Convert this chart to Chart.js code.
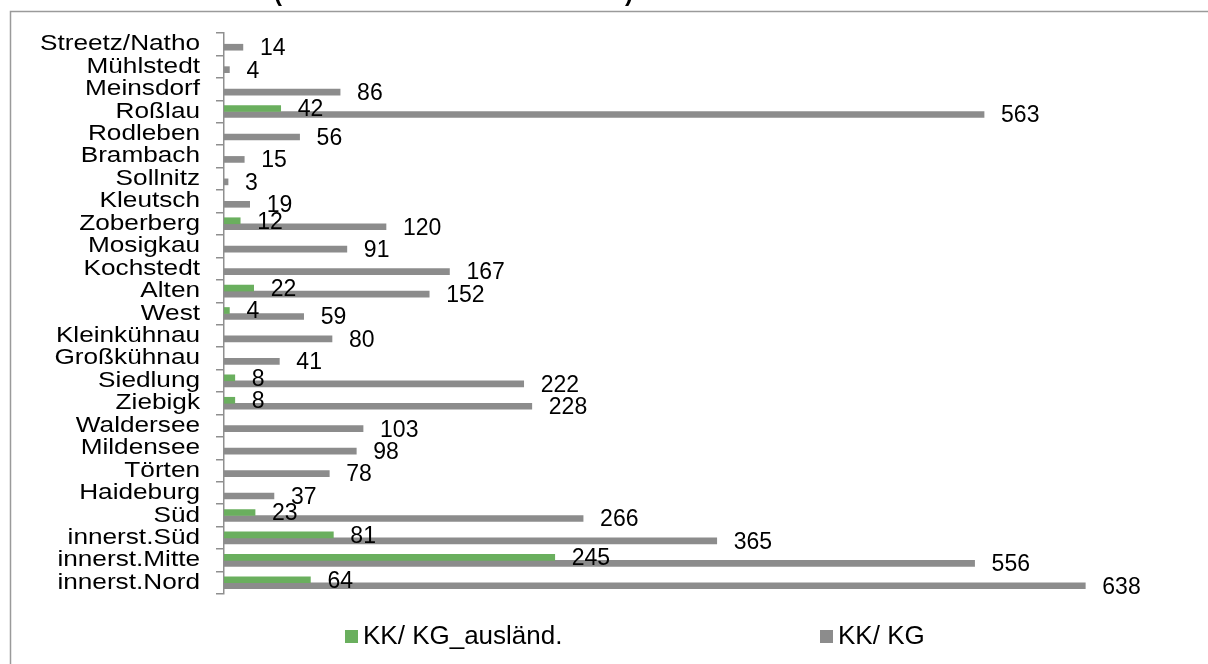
<!DOCTYPE html>
<html>
<head>
<meta charset="utf-8">
<script src="https://cdn.jsdelivr.net/npm/chart.js@4/dist/chart.umd.min.js"></script>
<style>
  html, body { margin: 0; padding: 0; background: #fff; }
  #wrap { width: 1208px; height: 664px; position: relative; }
</style>
</head>
<body>
<div id="wrap"><canvas id="c" width="1208" height="664"></canvas></div>
<script>
// Districts, top to bottom
const categories = [
  'Streetz/Natho', 'Mühlstedt', 'Meinsdorf', 'Roßlau', 'Rodleben', 'Brambach',
  'Sollnitz', 'Kleutsch', 'Zoberberg', 'Mosigkau', 'Kochstedt', 'Alten', 'West',
  'Kleinkühnau', 'Großkühnau', 'Siedlung', 'Ziebigk', 'Waldersee', 'Mildensee',
  'Törten', 'Haideburg', 'Süd', 'innerst.Süd', 'innerst.Mitte', 'innerst.Nord'
];
const seriesNames = ['KK/ KG_ausländ.', 'KK/ KG'];
const auslaendValues = [null, null, null, 42, null, null, null, null, 12, null, null, 22, 4,
  null, null, 8, 8, null, null, null, null, 23, 81, 245, 64];
const gesamtValues = [14, 4, 86, 563, 56, 15, 3, 19, 120, 91, 167, 152, 59,
  80, 41, 222, 228, 103, 98, 78, 37, 266, 365, 556, 638];
const seriesColors = ['#6AAF5E', '#8C8C8C'];

const FONT = '"Liberation Sans", Arial, sans-serif';

// Outer frame and the clipped title line
const framePlugin = {
  id: 'frame',
  beforeDraw(chart) {
    const ctx = chart.ctx;
    ctx.save();
    ctx.fillStyle = '#fff';
    ctx.fillRect(0, 0, chart.width, chart.height);
    ctx.strokeStyle = '#9a9a9a';
    ctx.lineWidth = 1.5;
    ctx.beginPath();
    ctx.moveTo(10.5, chart.height + 2);
    ctx.lineTo(10.5, 11.5);
    ctx.lineTo(chart.width + 2, 11.5);
    ctx.stroke();
    ctx.fillStyle = '#000';
    ctx.font = 'bold 24px ' + FONT;
    ctx.textBaseline = 'alphabetic';
    ctx.textAlign = 'left';
    ctx.fillText('(', 274, 1);
    ctx.fillText(')', 625, 1);
    ctx.restore();
  }
};

// Category names, drawn widened at the axis tick positions
const categoryLabels = {
  id: 'categoryLabels',
  afterDraw(chart) {
    const scale = chart.scales.y;
    const ctx = chart.ctx;
    const right = 200;
    ctx.save();
    ctx.font = '22px ' + FONT;
    ctx.fillStyle = '#000';
    ctx.textBaseline = 'middle';
    ctx.textAlign = 'right';
    scale.ticks.forEach((t, i) => {
      const y = scale.getPixelForTick(i);
      ctx.save();
      ctx.translate(right, y);
      ctx.scale(1.19, 1);
      ctx.fillText(scale.getLabelForValue(t.value), 0, 0);
      ctx.restore();
    });
    ctx.restore();
  }
};

// Value labels next to the bar ends
const valueLabels = {
  id: 'valueLabels',
  afterDatasetsDraw(chart) {
    const ctx = chart.ctx;
    ctx.save();
    ctx.font = '23px ' + FONT;
    ctx.fillStyle = '#000';
    ctx.textBaseline = 'middle';
    ctx.textAlign = 'left';
    chart.data.datasets.forEach((ds, i) => {
      const meta = chart.getDatasetMeta(i);
      meta.data.forEach((el, j) => {
        const v = ds.data[j];
        if (v === null || v === undefined) return;
        ctx.fillText(String(v), el.x + 17, el.y + 1.5);
      });
    });
    ctx.restore();
  }
};

// Legend laid out in two columns along the bottom
const bottomLegend = {
  id: 'bottomLegend',
  afterDraw(chart) {
    const ctx = chart.ctx;
    const xs = [345, 820];
    const y = 636;
    ctx.save();
    ctx.font = '26px ' + FONT;
    ctx.textBaseline = 'middle';
    ctx.textAlign = 'left';
    chart.data.datasets.forEach((ds, i) => {
      ctx.fillStyle = ds.backgroundColor;
      ctx.fillRect(xs[i], y - 6, 13, 13);
      ctx.fillStyle = '#000';
      ctx.fillText(ds.label, xs[i] + 18, y + 1);
    });
    ctx.restore();
  }
};

new Chart(document.getElementById('c'), {
  type: 'bar',
  data: {
    labels: categories,
    datasets: [
      { label: seriesNames[0], data: auslaendValues, backgroundColor: seriesColors[0], barThickness: 6 },
      { label: seriesNames[1], data: gesamtValues, backgroundColor: seriesColors[1], barThickness: 6 }
    ]
  },
  options: {
    indexAxis: 'y',
    responsive: false,
    animation: false,
    devicePixelRatio: 1,
    layout: { padding: { top: 33, bottom: 70, left: 0, right: 39 } },
    plugins: { legend: { display: false }, tooltip: { enabled: false }, title: { display: false } },
    scales: {
      x: { display: false, min: 0, max: 700 },
      y: {
        position: 'left',
        grid: { display: true, drawOnChartArea: false, offset: true, tickLength: 8, color: '#8f8f8f', lineWidth: 1.5 },
        border: { display: true, color: '#8f8f8f', width: 1.5 },
        ticks: { display: false, autoSkip: false },
        afterFit(scale) { scale.width = 224; }
      }
    }
  },
  plugins: [framePlugin, categoryLabels, valueLabels, bottomLegend]
});
</script>
</body>
</html>
